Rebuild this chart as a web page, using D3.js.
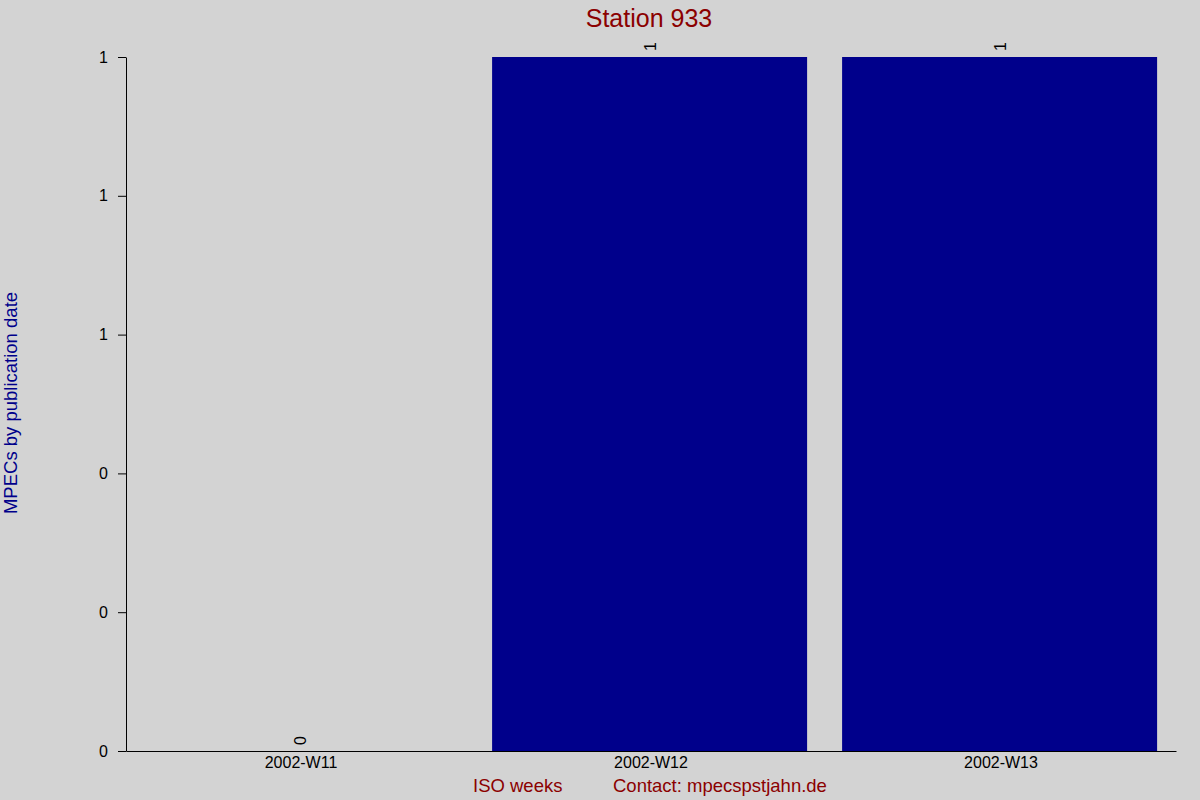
<!DOCTYPE html>
<html>
<head>
<meta charset="utf-8">
<script src="https://cdn.jsdelivr.net/npm/d3@7"></script>
<style>
  body { margin: 0; background: #d3d3d3; }
  svg { font-family: "Liberation Sans", Arial, sans-serif; }
</style>
</head>
<body>
<div id="chart"></div>
<script>
// data
var weeks = ["2002-W11", "2002-W12", "2002-W13"];
var counts = [0, 1, 1];
var yTicks = [0, 0.2, 0.4, 0.6, 0.8, 1];

var W = 1200, H = 800;
var margin = {top: 57, right: 24, bottom: 49, left: 126};
var width = W - margin.left - margin.right,
    height = H - margin.top - margin.bottom;

var svg = d3.select("#chart").append("svg")
    .attr("width", W)
    .attr("height", H);

svg.append("rect")
    .attr("width", W).attr("height", H)
    .attr("fill", "#d3d3d3");

var g = svg.append("g")
    .attr("transform", "translate(" + margin.left + "," + margin.top + ")");

var x = d3.scaleBand()
    .domain(weeks)
    .range([0, width])
    .padding(0);

var y = d3.scaleLinear()
    .domain([0, 1])
    .range([height, 0]);

var barW = x.bandwidth() * 0.9;
var barOff = x.bandwidth() * 0.046;

// bars
g.selectAll("rect.bar")
    .data(counts)
    .enter()
    .append("rect")
    .attr("class", "bar")
    .attr("x", function(d, i) { return x(weeks[i]) + barOff; })
    .attr("y", function(d) { return y(d); })
    .attr("width", barW)
    .attr("height", function(d) { return height - y(d); })
    .attr("fill", "#00008b");

// value labels, rotated
g.selectAll("text.val")
    .data(counts)
    .enter()
    .append("text")
    .attr("class", "val")
    .attr("transform", function(d, i) {
        return "translate(" + (x(weeks[i]) + x.bandwidth() / 2 + 5) + "," + (y(d) - 6) + ")rotate(-90)";
    })
    .attr("text-anchor", "start")
    .style("font-size", "16px")
    .attr("fill", "#000")
    .text(function(d) { return d; });

// y axis
var yAxis = d3.axisLeft(y)
    .tickValues(yTicks)
    .tickFormat(d3.format(".0f"))
    .tickSize(8)
    .tickSizeOuter(0)
    .tickPadding(10);

g.append("g")
    .attr("class", "y-axis")
    .call(yAxis)
    .call(function(a) {
        a.selectAll("text").style("font-size", "16px").attr("fill", "#000");
        a.selectAll("line").attr("stroke", "#000");
        a.select(".domain").attr("stroke", "#000");
    });

// x axis
var xAxis = d3.axisBottom(x)
    .tickSize(0)
    .tickSizeOuter(0)
    .tickPadding(6);

g.append("g")
    .attr("class", "x-axis")
    .attr("transform", "translate(0," + height + ")")
    .call(xAxis)
    .call(function(a) {
        a.selectAll("text").style("font-size", "16px").attr("fill", "#000");
        a.select(".domain").attr("stroke", "#000");
    });

// title
svg.append("text")
    .attr("x", 649)
    .attr("y", 27)
    .attr("text-anchor", "middle")
    .style("font-size", "25px")
    .attr("fill", "#8b0000")
    .text("Station 933");

// y label
svg.append("text")
    .attr("transform", "translate(17," + 403 + ")rotate(-90)")
    .attr("text-anchor", "middle")
    .style("font-size", "18.5px")
    .attr("fill", "#00008b")
    .text("MPECs by publication date");

// x labels
svg.append("text")
    .attr("x", 473)
    .attr("y", 792)
    .style("font-size", "18.5px")
    .attr("fill", "#8b0000")
    .text("ISO weeks");

svg.append("text")
    .attr("x", 613)
    .attr("y", 792)
    .style("font-size", "18.5px")
    .attr("fill", "#8b0000")
    .text("Contact: mpecspstjahn.de");
</script>
</body>
</html>
